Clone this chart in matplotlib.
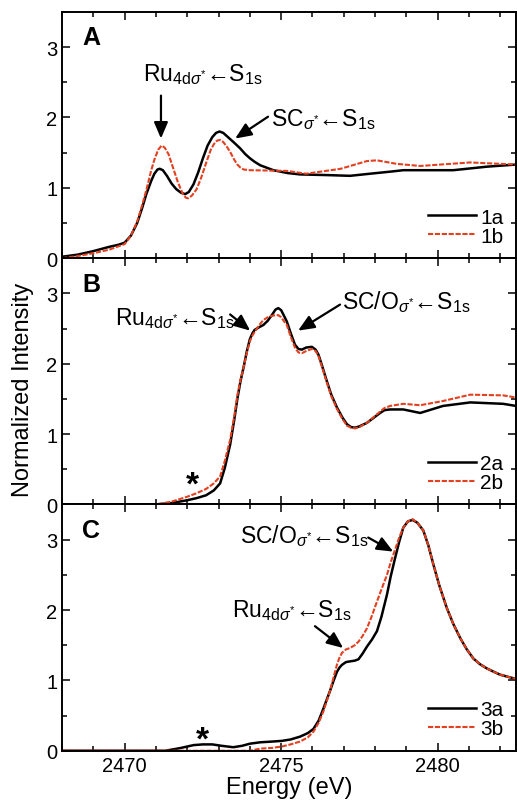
import matplotlib
matplotlib.use("Agg")
import matplotlib.pyplot as plt
from matplotlib.ticker import MultipleLocator

plt.rcParams['font.family'] = ['Liberation Sans', 'DejaVu Sans']
plt.rcParams['mathtext.fontset'] = 'custom'
plt.rcParams['mathtext.rm'] = 'Liberation Sans'
plt.rcParams['mathtext.it'] = 'Liberation Sans:italic'
plt.rcParams['mathtext.bf'] = 'Liberation Sans:bold'

# panel A: 1a / 1b
e_1a = [2468.0, 2468.5, 2469.0, 2469.5, 2469.8, 2470.0, 2470.2, 2470.4, 2470.55, 2470.7,
        2470.85, 2470.95, 2471.05, 2471.12, 2471.22, 2471.35, 2471.5, 2471.65, 2471.8, 2471.93,
        2472.05, 2472.2, 2472.35, 2472.5, 2472.65, 2472.8, 2472.92, 2473.03, 2473.15, 2473.3,
        2473.5, 2473.69, 2473.85, 2474.0, 2474.15, 2474.33, 2474.75, 2475.2, 2475.6, 2476.5,
        2477.2, 2477.84, 2478.5, 2478.9, 2480.5, 2481.57, 2482.5]
i_1a = [0.02, 0.05, 0.10, 0.16, 0.19, 0.22, 0.32, 0.50, 0.70, 0.92,
        1.10, 1.20, 1.26, 1.27, 1.25, 1.17, 1.06, 0.98, 0.93, 0.91,
        0.94, 1.05, 1.22, 1.42, 1.60, 1.72, 1.78, 1.80, 1.78, 1.72,
        1.64, 1.56, 1.48, 1.42, 1.37, 1.32, 1.25, 1.21, 1.19, 1.18,
        1.17, 1.20, 1.23, 1.25, 1.25, 1.30, 1.33]
e_1b = [2468.0, 2468.5, 2469.0, 2469.5, 2470.0, 2470.2, 2470.4, 2470.55, 2470.7, 2470.85,
        2470.95, 2471.07, 2471.18, 2471.28, 2471.4, 2471.55, 2471.7, 2471.85, 2471.95, 2472.03,
        2472.15, 2472.3, 2472.45, 2472.6, 2472.75, 2472.85, 2472.95, 2473.05, 2473.15, 2473.27,
        2473.37, 2473.5, 2473.6, 2473.69, 2473.8, 2474.0, 2475.18, 2475.8, 2476.9, 2477.74,
        2478.06, 2478.69, 2479.44, 2481.04, 2482.5]
i_1b = [0.0, 0.03, 0.07, 0.12, 0.20, 0.32, 0.52, 0.74, 0.98, 1.25,
        1.40, 1.54, 1.60, 1.57, 1.48, 1.28, 1.08, 0.92, 0.86, 0.85,
        0.89, 0.98, 1.15, 1.35, 1.54, 1.62, 1.67, 1.68, 1.65, 1.58,
        1.51, 1.40, 1.33, 1.29, 1.26, 1.25, 1.24, 1.20, 1.27, 1.38,
        1.39, 1.34, 1.31, 1.36, 1.33]

# panel B: 2a / 2b
e_2 = [2468.0, 2471.0, 2471.5, 2472.0, 2472.3, 2472.6, 2472.85, 2473.05, 2473.2, 2473.37,
       2473.5, 2473.6, 2473.7, 2473.8, 2473.9, 2474.0, 2474.08, 2474.15, 2474.3, 2474.43,
       2474.57, 2474.7, 2474.82, 2474.91, 2475.0, 2475.08, 2475.18, 2475.3, 2475.44, 2475.55,
       2475.66, 2475.8, 2475.98, 2476.1, 2476.19, 2476.3, 2476.46, 2476.6, 2476.78, 2476.95,
       2477.1, 2477.23, 2477.36, 2477.5, 2477.74, 2477.95, 2478.16, 2478.3, 2478.48, 2478.9,
       2479.44, 2480.17, 2481.04, 2482.09, 2482.5]
i_2a = [0.0, 0.0, 0.02, 0.06, 0.09, 0.13, 0.20, 0.30, 0.52, 0.85,
        1.20, 1.50, 1.75, 1.95, 2.17, 2.35, 2.43, 2.48, 2.52, 2.55,
        2.61, 2.69, 2.77, 2.79, 2.76, 2.69, 2.60, 2.44, 2.27, 2.21,
        2.20, 2.23, 2.24, 2.20, 2.13, 1.98, 1.75, 1.56, 1.38, 1.24,
        1.14, 1.10, 1.09, 1.11, 1.16, 1.23, 1.30, 1.34, 1.35, 1.35,
        1.30, 1.40, 1.45, 1.43, 1.40]
i_2b = [0.0, 0.0, 0.04, 0.11, 0.16, 0.22, 0.30, 0.40, 0.62, 0.92,
        1.25, 1.55, 1.77, 1.95, 2.15, 2.32, 2.40, 2.45, 2.55, 2.62,
        2.66, 2.68, 2.69, 2.69, 2.66, 2.61, 2.55, 2.39, 2.23, 2.16,
        2.15, 2.18, 2.21, 2.18, 2.11, 1.96, 1.73, 1.54, 1.36, 1.22,
        1.12, 1.09, 1.08, 1.10, 1.16, 1.24, 1.32, 1.37, 1.40, 1.43,
        1.41, 1.47, 1.56, 1.55, 1.52]

# panel C: 3a / 3b
e_3a = [2468.0, 2471.3, 2471.8, 2472.2, 2472.5, 2472.8, 2473.1, 2473.47, 2473.75, 2474.0,
        2474.33, 2474.7, 2475.02, 2475.3, 2475.6, 2475.85, 2476.03, 2476.2, 2476.35, 2476.45,
        2476.56, 2476.67, 2476.78, 2476.86, 2476.94, 2477.07, 2477.2, 2477.35, 2477.47, 2477.6,
        2477.74, 2477.9, 2478.06, 2478.2, 2478.38, 2478.5, 2478.64, 2478.77, 2478.9, 2479.05,
        2479.2, 2479.35, 2479.54, 2479.7, 2479.86, 2480.05, 2480.29, 2480.5, 2480.72, 2480.93,
        2481.14, 2481.35, 2481.57, 2481.8, 2482.0, 2482.25, 2482.5]
i_3a = [0.0, 0.0, 0.04, 0.08, 0.09, 0.09, 0.07, 0.05, 0.07, 0.10,
        0.12, 0.13, 0.14, 0.16, 0.20, 0.25, 0.31, 0.43, 0.60, 0.72,
        0.85, 0.99, 1.12, 1.18, 1.22, 1.26, 1.27, 1.28, 1.30, 1.38,
        1.48, 1.58, 1.70, 1.90, 2.22, 2.48, 2.74, 2.97, 3.17, 3.26,
        3.28, 3.24, 3.13, 2.92, 2.65, 2.35, 2.03, 1.80, 1.60, 1.44,
        1.31, 1.23, 1.17, 1.12, 1.08, 1.05, 1.02]
e_3b = [2468.0, 2474.0, 2474.33, 2474.7, 2475.02, 2475.3, 2475.6, 2475.85, 2476.03, 2476.2,
        2476.35, 2476.45, 2476.56, 2476.67, 2476.78, 2476.86, 2476.94, 2477.07, 2477.2, 2477.35,
        2477.47, 2477.6, 2477.74, 2477.9, 2478.06, 2478.2, 2478.38, 2478.5, 2478.64, 2478.77,
        2478.9, 2479.05, 2479.2, 2479.35, 2479.54, 2479.7, 2479.86, 2480.05, 2480.29, 2480.5,
        2480.72, 2480.93, 2481.14, 2481.35, 2481.57, 2481.8, 2482.0, 2482.25, 2482.5]
i_3b = [0.0, 0.0, 0.03, 0.04, 0.06, 0.09, 0.13, 0.19, 0.27, 0.40,
        0.56, 0.70, 0.85, 1.04, 1.22, 1.32, 1.39, 1.44, 1.46, 1.50,
        1.55, 1.63, 1.74, 1.92, 2.12, 2.29, 2.50, 2.68, 2.86, 3.03,
        3.17, 3.26, 3.29, 3.24, 3.13, 2.92, 2.65, 2.35, 2.03, 1.80,
        1.60, 1.44, 1.31, 1.23, 1.17, 1.12, 1.08, 1.05, 1.02]

ru_label = r'Ru$_{\mathregular{4d}\sigma^{*}}$←S$_{\mathregular{1s}}$'
sc_label = r'SC$_{\sigma^{*}}$←S$_{\mathregular{1s}}$'
sco_label = r'SC/O$_{\sigma^{*}}$←S$_{\mathregular{1s}}$'

red = '#e2401f'

fig = plt.figure(figsize=(5.17, 8.04), dpi=100)
gs = fig.add_gridspec(3, 1, left=0.12, right=0.998, top=0.984, bottom=0.065, hspace=0)
axes = [fig.add_subplot(gs[i]) for i in range(3)]

series = [
    (e_1a, i_1a, e_1b, i_1b, '1a', '1b', 'A'),
    (e_2, i_2a, e_2, i_2b, '2a', '2b', 'B'),
    (e_3a, i_3a, e_3b, i_3b, '3a', '3b', 'C'),
]

for ax, (ea, ia, eb, ib, la, lb, letter) in zip(axes, series):
    ax.plot(ea, ia, color='black', lw=1.8, label=la)
    ax.plot(eb, ib, color=red, lw=1.5, dashes=(2.5, 0.8), label=lb)
    ax.set_xlim(2468, 2482.5)
    ax.set_ylim(0, 3.5)
    ax.xaxis.set_major_locator(MultipleLocator(5))
    ax.xaxis.set_minor_locator(MultipleLocator(1))
    ax.yaxis.set_major_locator(MultipleLocator(1))
    ax.yaxis.set_minor_locator(MultipleLocator(0.5))
    ax.tick_params(which='both', direction='in', top=True, right=True, width=1.1, labelsize=14.5)
    ax.tick_params(which='major', length=6)
    ax.tick_params(which='minor', length=3.5)
    for s in ax.spines.values():
        s.set_linewidth(1.4)
    ax.text(0.045, 0.945, letter, transform=ax.transAxes, fontsize=18, fontweight='bold',
            ha='left', va='top')
    ax.legend(loc='lower right', frameon=False, fontsize=15, handlelength=2.3,
              labelspacing=0.0, handletextpad=0.2, borderaxespad=0.2)
    if ax is not axes[-1]:
        ax.tick_params(labelbottom=False)

arrow = dict(arrowstyle='-|>,head_width=0.3,head_length=0.7', color='black', lw=1.6,
             mutation_scale=14, shrinkA=0, shrinkB=0)
fs = 16.5

# panel A annotations
ax = axes[0]
ax.text(2470.59, 2.53, ru_label, fontsize=fs, ha='left', va='baseline')
ax.annotate('', xy=(2471.16, 1.70), xytext=(2471.16, 2.31), arrowprops=arrow)
ax.text(2474.66, 1.89, sc_label, fontsize=fs, ha='left', va='baseline')
ax.annotate('', xy=(2473.53, 1.70), xytext=(2474.58, 2.01), arrowprops=arrow)

# panel B annotations
ax = axes[1]
ax.text(2469.69, 2.56, ru_label, fontsize=fs, ha='left', va='baseline')
ax.annotate('', xy=(2474.01, 2.47), xytext=(2473.37, 2.70), arrowprops=arrow)
ax.text(2476.95, 2.79, sco_label, fontsize=fs, ha='left', va='baseline')
ax.annotate('', xy=(2475.54, 2.47), xytext=(2476.88, 2.84), arrowprops=arrow)
ax.text(2472.15, 0.15, '*', fontsize=24, fontweight='bold', ha='center', va='baseline')

# panel C annotations
ax = axes[2]
ax.text(2473.69, 2.96, sco_label, fontsize=fs, ha='left', va='baseline')
ax.annotate('', xy=(2478.58, 2.83), xytext=(2477.78, 3.03), arrowprops=arrow)
ax.text(2473.43, 1.91, ru_label, fontsize=fs, ha='left', va='baseline')
ax.annotate('', xy=(2476.98, 1.46), xytext=(2476.08, 1.77), arrowprops=arrow)
ax.text(2472.47, 0.03, '*', fontsize=24, fontweight='bold', ha='center', va='baseline')

axes[2].set_xlabel('Energy (eV)', fontsize=17, labelpad=1)
fig.text(0.045, 0.515, 'Normalized Intensity', rotation=90, fontsize=17,
         ha='center', va='center')

fig.savefig('out.png', dpi=100)
